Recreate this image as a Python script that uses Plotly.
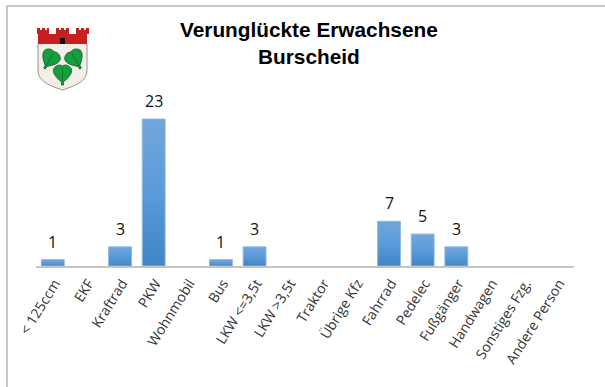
import base64
import plotly.graph_objects as go

categories = ["< 125ccm", "EKF", "Kraftrad", "PKW", "Wohnmobil", "Bus", "LKW <=3,5t", "LKW >3,5t",
              "Traktor", "Übrige Kfz", "Fahrrad", "Pedelec", "Fußgänger", "Handwagen",
              "Sonstiges Fzg.", "Andere Person"]
values = [1, None, 3, 23, None, 1, 3, None, None, None, 7, 5, 3, None, None, None]
title_lines = ["Verunglückte Erwachsene", "Burscheid"]

W, H = 605, 387
L, R, T, B = 36, 574, 105, 266

leaf = lambda x, y, r: (
    f'<g transform="translate({x} {y}) rotate({r})">'
    '<path d="M0 -8 C2 -10 7 -9 9 -5 C10 -1 7 3 1 8 L1 11 L-1 11 L-1 8 C-7 3 -10 -1 -9 -5 C-7 -9 -2 -10 0 -8Z" '
    'fill="#12a03c" stroke="#14502a" stroke-width="0.7"/>'
    '<path d="M0 -6 L0 8" stroke="#0d5a28" stroke-width="0.6"/></g>')
svg = (
    '<svg xmlns="http://www.w3.org/2000/svg" viewBox="0 0 54 64" width="54" height="64">'
    '<path d="M2 16 H51 V43 C51 55 38 59 26.5 63 C15 59 2 55 2 43 Z" fill="#f3efe7" stroke="#7d7a75" stroke-width="0.8"/>'
    '<path d="M1 1 H4 V3 H6 V1 H9 V3 H11 V1 H13 V7 H20 V1 H23 V3 H25 V1 H28 V3 H30 V1 H33 V7 H40 V1 H43 V3 H45 V1 H48 V3 H50 V1 H53 V7 H51 V17 H2 V7 H1 Z" fill="#c5201f"/>'
    '<rect x="24" y="11" width="5" height="6" fill="#111"/>'
    + leaf(14, 32, 30) + leaf(39, 32, -30) + leaf(26.5, 47, 0) + '</svg>')
logo = "data:image/svg+xml;base64," + base64.b64encode(svg.encode()).decode()

fig = go.Figure(go.Bar(
    x=categories, y=values,
    marker=dict(color="#5b9bd5", line=dict(color="#8db8e2", width=1)),
    width=0.68,
    hoverinfo="skip",
))

def px_x(p):
    return (p - L) / (R - L)

def px_y(p):
    return (B - p) / (B - T)

value_labels = [
    dict(x=c, y=v, text=str(v), xref="x", yref="y", yshift=5, yanchor="bottom", xanchor="center",
         showarrow=False, font=dict(family="Open Sans, sans-serif", size=16, color="#111111"))
    for c, v in zip(categories, values) if v is not None
]

fig.update_layout(
    width=W, height=H, autosize=False,
    paper_bgcolor="white", plot_bgcolor="rgba(0,0,0,0)", showlegend=False,
    margin=dict(l=L, r=W - R, t=T, b=H - B, autoexpand=False),
    font=dict(family="Open Sans, sans-serif", size=13, color="#222222"),
    annotations=[
        dict(text="<b>" + "<br>".join(title_lines) + "</b>", x=px_x(309), y=px_y(43.5), xref="paper", yref="paper",
             xanchor="center", yanchor="middle", showarrow=False,
             font=dict(family="Liberation Sans, Arial, sans-serif", size=20.8, color="black")),
    ] + value_labels,
    images=[dict(source=logo, xref="paper", yref="paper", layer="above",
                 x=px_x(36), y=px_y(27), sizex=54 / (R - L), sizey=64 / (B - T),
                 xanchor="left", yanchor="top", sizing="stretch")],
    shapes=[
        dict(type="line", xref="paper", yref="paper", x0=px_x(7), x1=px_x(605), y0=px_y(6), y1=px_y(6),
             line=dict(color="#c8c8c8", width=2)),
        dict(type="line", xref="paper", yref="paper", x0=px_x(7), x1=px_x(7), y0=px_y(5), y1=px_y(387),
             line=dict(color="#c8c8c8", width=2)),
    ],
)
fig.update_xaxes(type="category", categoryorder="array", categoryarray=categories,
                 tickangle=-58, ticks="", showgrid=False, showline=True,
                 linecolor="#c4c4c4", linewidth=1.5, ticklabelstandoff=2, ticklabelshift=2,
                 tickfont=dict(family="Open Sans, sans-serif", size=14, color="#333333"))
fig.update_yaxes(visible=False, range=[0, 25.2], showgrid=False, zeroline=False)

page_js = """
document.documentElement.style.margin='0';
document.body.style.margin='0';
document.body.style.padding='0';
var svg = document.querySelector('.main-svg');
var ns = 'http://www.w3.org/2000/svg';
var g = document.createElementNS(ns, 'linearGradient');
g.id = 'barGrad'; g.setAttribute('x1','0'); g.setAttribute('y1','0'); g.setAttribute('x2','0'); g.setAttribute('y2','1');
[['0','#72a6db'],['0.5','#5b9bd9'],['1','#3f85c6']].forEach(function(s){
  var st = document.createElementNS(ns,'stop'); st.setAttribute('offset',s[0]); st.setAttribute('stop-color',s[1]); g.appendChild(st);
});
svg.querySelector('defs').appendChild(g);
document.querySelectorAll('.bars .point path').forEach(function(p){ p.style.fill='url(#barGrad)'; });
"""
fig.write_html("out.html", post_script=page_js, config={"displayModeBar": False})
